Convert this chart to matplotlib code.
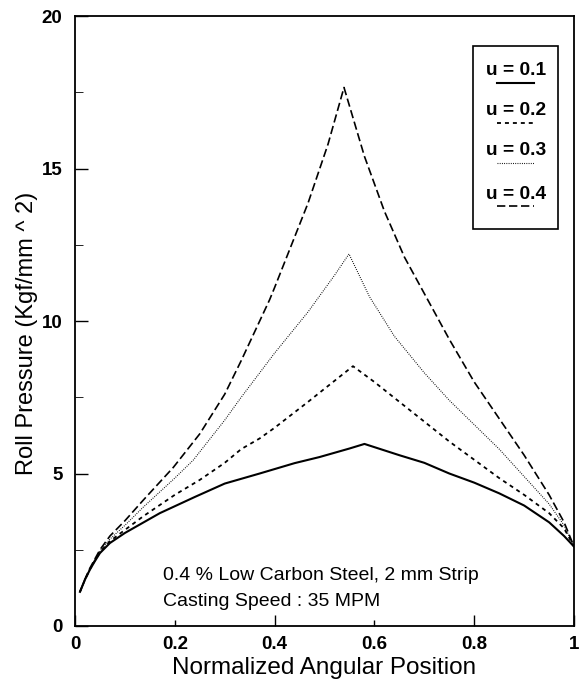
import matplotlib
matplotlib.use("Agg")
import matplotlib.pyplot as plt
from matplotlib.ticker import MultipleLocator

plt.rcParams['font.family'] = ['Liberation Sans', 'DejaVu Sans']

# values
x_u1 = [0.01, 0.02, 0.03, 0.04, 0.05, 0.07, 0.1, 0.17, 0.24, 0.3, 0.37, 0.44, 0.49, 0.55, 0.58,
        0.65, 0.7, 0.75, 0.8, 0.85, 0.9, 0.95, 0.98, 1.0]
y_u1 = [1.12, 1.52, 1.85, 2.13, 2.39, 2.72, 3.05, 3.7, 4.23, 4.67, 5.0, 5.34, 5.54, 5.82, 5.97,
        5.6, 5.35, 5.0, 4.7, 4.35, 3.95, 3.4, 2.95, 2.6]

x_u2 = [0.01, 0.02, 0.03, 0.04, 0.05, 0.07, 0.1, 0.137, 0.2, 0.25, 0.3, 0.333, 0.37, 0.4, 0.467,
        0.49, 0.557, 0.6, 0.65, 0.7, 0.75, 0.8, 0.85, 0.9, 0.95, 0.98, 1.0]
y_u2 = [1.12, 1.52, 1.86, 2.15, 2.42, 2.78, 3.15, 3.6, 4.3, 4.79, 5.35, 5.8, 6.15, 6.5, 7.35,
        7.65, 8.52, 8.0, 7.35, 6.7, 6.05, 5.45, 4.85, 4.3, 3.7, 3.2, 2.6]

x_u3 = [0.01, 0.02, 0.03, 0.04, 0.05, 0.07, 0.1, 0.137, 0.2, 0.237, 0.3, 0.333, 0.37, 0.4, 0.467,
        0.52, 0.549, 0.59, 0.64, 0.7, 0.75, 0.8, 0.85, 0.9, 0.95, 0.98, 1.0]
y_u3 = [1.12, 1.52, 1.87, 2.17, 2.45, 2.85, 3.3, 3.9, 4.85, 5.44, 6.75, 7.5, 8.3, 8.95, 10.3,
        11.5, 12.2, 10.8, 9.5, 8.3, 7.4, 6.6, 5.8, 4.9, 4.0, 3.3, 2.6]

x_u4 = [0.01, 0.02, 0.03, 0.04, 0.05, 0.07, 0.1, 0.137, 0.197, 0.25, 0.3, 0.333, 0.39, 0.4,
        0.467, 0.507, 0.539, 0.58, 0.62, 0.66, 0.7, 0.75, 0.8, 0.85, 0.9, 0.95, 0.98, 1.0]
y_u4 = [1.12, 1.53, 1.9, 2.2, 2.5, 2.95, 3.45, 4.13, 5.2, 6.3, 7.6, 8.7, 10.7, 11.1,
        13.87, 15.8, 17.66, 15.4, 13.6, 12.1, 10.9, 9.4, 8.0, 6.8, 5.6, 4.3, 3.4, 2.6]

labels = ['u = 0.1', 'u = 0.2', 'u = 0.3', 'u = 0.4']
styles = ['-', (0, (2.2, 2.2)), (0, (0.8, 1.2)), (0, (5, 2.2))]
widths = [1.5, 1.3, 0.8, 1.2]

fig = plt.figure(figsize=(5.79, 6.86), dpi=100)
ax = fig.add_axes([0.1295, 0.0875, 0.862, 0.889])

series = [(x_u1, y_u1), (x_u2, y_u2), (x_u3, y_u3), (x_u4, y_u4)]
for (xs, ys), ls, lw in zip(series, styles, widths):
    ax.plot(xs, ys, color='black', linestyle=ls, linewidth=lw)

ax.set_xlim(0, 1)
ax.set_ylim(0, 20)
ax.set_xticks([0, 0.2, 0.4, 0.6, 0.8, 1])
ax.set_xticklabels(['0', '0.2', '0.4', '0.6', '0.8', '1'])
ax.yaxis.set_major_locator(MultipleLocator(5))
ax.yaxis.set_minor_locator(MultipleLocator(2.5))
ax.tick_params(direction='in', width=1, labelsize=13.5)
ax.tick_params(axis='y', which='major', length=9, pad=9)
ax.tick_params(axis='y', which='minor', direction='in', length=6)
ax.tick_params(axis='x', which='major', length=8, pad=7)
# the scan shows short ticks at 0.2 and 0.6
for i in (1, 3):
    ax.xaxis.get_major_ticks()[i].tick1line.set_markersize(4)
for lab in ax.get_xticklabels() + ax.get_yticklabels():
    lab.set_fontweight('bold')
for side in ax.spines.values():
    side.set_linewidth(1.3)

ax.set_xlabel('Normalized Angular Position', fontsize=17.5, labelpad=3)
ax.set_ylabel('Roll Pressure (Kgf/mm ^ 2)', fontsize=17)
ax.yaxis.set_label_coords(-0.074, 0.479)

ax.text(0.176, 1.67, '0.4 % Low Carbon Steel, 2 mm Strip', fontsize=14,
        va='center', ha='left')
ax.text(0.176, 0.8, 'Casting Speed : 35 MPM', fontsize=14, va='center', ha='left')

# legend box, text above each line sample
box = plt.Rectangle((0.798, 0.651), 0.17, 0.30, transform=ax.transAxes,
                    fill=False, edgecolor='black', linewidth=1.2)
ax.add_patch(box)
text_y = [0.911, 0.845, 0.779, 0.708]
for lab, ls, lw, ty in zip(labels, styles, widths, text_y):
    ax.text(0.883, ty, lab, transform=ax.transAxes, fontsize=13.8, fontweight='bold',
            ha='center', va='center')
    ax.plot([0.846, 0.92], [ty - 0.02, ty - 0.02], transform=ax.transAxes,
            color='black', linestyle=ls, linewidth=lw)

fig.savefig('out.png', dpi=100)
